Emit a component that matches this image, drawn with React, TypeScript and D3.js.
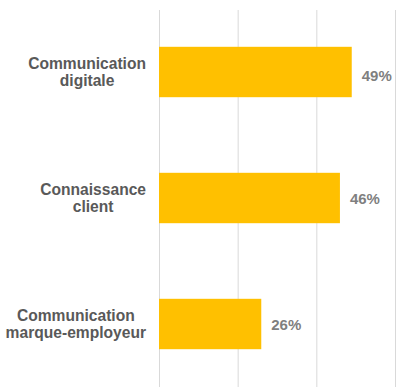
import React, { useEffect, useRef } from "react";
import * as d3 from "d3";

const categories: string[][] = [
  ["Communication", "digitale"],
  ["Connaissance", "client"],
  ["Communication", "marque-employeur"],
];
const values: number[] = [49, 46, 26];
const gridTicks: number[] = [0, 20, 40, 60];

const W = 403;
const H = 387;

export default function App() {
  const ref = useRef<SVGSVGElement | null>(null);

  useEffect(() => {
    const svg = d3.select(ref.current);
    svg.selectAll("*").remove();

    const x = d3.scaleLinear().domain([0, 60]).range([159, 395]);
    const keys = categories.map((c) => c.join(" "));
    const y = d3
      .scaleBand<string>()
      .domain(keys)
      .range([9, 387])
      .paddingInner(0.6)
      .paddingOuter(0.3);

    svg
      .append("g")
      .selectAll("line")
      .data(gridTicks)
      .join("line")
      .attr("x1", (d) => x(d) + 0.5)
      .attr("x2", (d) => x(d) + 0.5)
      .attr("y1", 10)
      .attr("y2", H)
      .attr("stroke", "#d9d9d9")
      .attr("stroke-width", 1);

    svg
      .append("g")
      .selectAll("rect")
      .data(values)
      .join("rect")
      .attr("x", x(0))
      .attr("y", (_, i) => y(keys[i])!)
      .attr("width", (d) => x(d) - x(0))
      .attr("height", y.bandwidth())
      .attr("fill", "#FFC000");

    svg
      .append("g")
      .selectAll("text")
      .data(values)
      .join("text")
      .attr("x", (d) => x(d) + 10)
      .attr("y", (_, i) => y(keys[i])! + y.bandwidth() / 2 + 5.5 + (i === 0 ? 3 : 0))
      .attr("font-family", "'Liberation Sans', Arial, sans-serif")
      .attr("font-weight", "bold")
      .attr("font-size", 15)
      .attr("fill", "#7f7f7f")
      .text((d) => `${d}%`);

    const lab = svg.append("g");
    categories.forEach((lines, i) => {
      const cy = y(keys[i])! + y.bandwidth() / 2;
      const t = lab
        .append("text")
        .attr("font-family", "'Liberation Sans', Arial, sans-serif")
        .attr("font-weight", "bold")
        .attr("font-size", 15.6)
        .attr("fill", "#595959")
        .attr("text-anchor", "middle");
      lines.forEach((ln, j) => {
        t.append("tspan").attr("y", cy - 3 + j * 17).text(ln);
      });
      let maxW = 0;
      t.selectAll<SVGTSpanElement, unknown>("tspan").each(function () {
        maxW = Math.max(maxW, this.getComputedTextLength());
      });
      const cx = 146 - maxW / 2;
      t.selectAll("tspan").attr("x", cx);
    });
  }, []);

  return (
    <div style={{ position: "absolute", left: 0, top: 0 }}>
      <svg ref={ref} width={W} height={H} style={{ display: "block", background: "#fff" }} />
    </div>
  );
}
